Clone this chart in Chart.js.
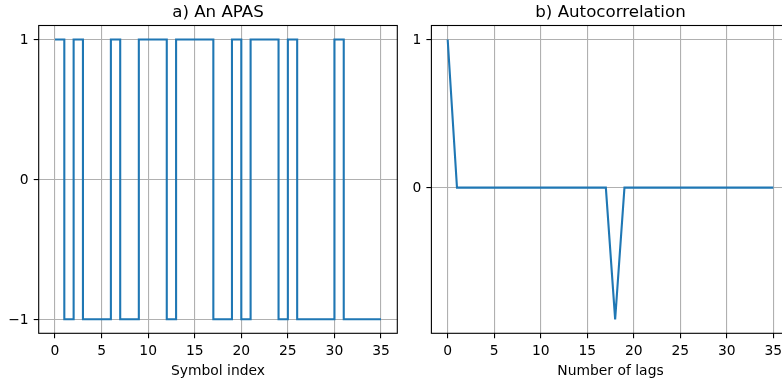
<!DOCTYPE html>
<html>
<head>
<meta charset="utf-8">
<script src="https://cdn.jsdelivr.net/npm/chart.js@4/dist/chart.umd.min.js"></script>
<style>
  html, body { margin: 0; padding: 0; background: #fff; overflow: hidden; }
  .panel { position: absolute; top: 0; width: 400px; height: 383px; }
  #panelA { left: 0; }
  #panelB { left: 400px; }
</style>
</head>
<body>
<div class="panel" id="panelA"><canvas id="chart-apas" width="400" height="383"></canvas></div>
<div class="panel" id="panelB"><canvas id="chart-acf" width="400" height="383"></canvas></div>
<script>
// symbol sequence (+1 / -1) and its periodic autocorrelation
var symbolIndex = [0, 1, 2, 3, 4, 5, 6, 7, 8, 9, 10, 11, 12, 13, 14, 15, 16, 17,
                   18, 19, 20, 21, 22, 23, 24, 25, 26, 27, 28, 29, 30, 31, 32, 33, 34, 35];
var apas = [1, 1, -1, 1, -1, -1, -1, 1, -1, -1, 1, 1, 1, -1, 1, 1, 1, 1,
            -1, -1, 1, -1, 1, 1, 1, -1, 1, -1, -1, -1, -1, 1, -1, -1, -1, -1];

var lags = [0, 1, 2, 3, 4, 5, 6, 7, 8, 9, 10, 11, 12, 13, 14, 15, 16, 17,
            18, 19, 20, 21, 22, 23, 24, 25, 26, 27, 28, 29, 30, 31, 32, 33, 34, 35];
var autocorr = [1, 0, 0, 0, 0, 0, 0, 0, 0, 0, 0, 0, 0, 0, 0, 0, 0, 0,
                -0.889, 0, 0, 0, 0, 0, 0, 0, 0, 0, 0, 0, 0, 0, 0, 0, 0, 0];

var xTickValues = [0, 5, 10, 15, 20, 25, 30, 35];
var apasTickValues = [-1, 0, 1];
var acfTickValues = [0, 1];

var FONT = '"DejaVu Sans", sans-serif';
Chart.defaults.color = '#000';
Chart.defaults.font.family = FONT;

function points(xs, ys) {
  return xs.map(function (x, i) { return { x: x, y: ys[i] }; });
}

function minusSign(v) {
  return String(v).replace('-', '\u2212');
}

// frame around the plot area plus the title above it
var framePlugin = {
  id: 'frame',
  afterDraw: function (chart, args, opts) {
    var a = chart.chartArea;
    var ctx = chart.ctx;
    ctx.save();
    ctx.strokeStyle = '#000';
    ctx.lineWidth = 1.1;
    ctx.strokeRect(a.left, a.top, a.right - a.left, a.bottom - a.top);
    ctx.fillStyle = '#000';
    ctx.font = '16.67px ' + FONT;
    ctx.textAlign = 'center';
    ctx.textBaseline = 'alphabetic';
    ctx.fillText(opts.text, (a.left + a.right) / 2, a.top - 8.3);
    ctx.restore();
  }
};

function makeChart(canvasId, cfg) {
  var ctx = document.getElementById(canvasId).getContext('2d');
  return new Chart(ctx, {
    type: 'line',
    data: {
      datasets: [{
        data: points(cfg.xs, cfg.ys),
        borderColor: '#1f77b4',
        borderWidth: 2.1,
        pointRadius: 0,
        fill: false,
        tension: 0,
        stepped: cfg.stepped
      }]
    },
    plugins: [framePlugin],
    options: {
      responsive: false,
      animation: false,
      layout: { padding: { left: 0, right: cfg.padRight, top: 25.5, bottom: 0 } },
      plugins: {
        legend: { display: false },
        tooltip: { enabled: false },
        frame: { text: cfg.title }
      },
      scales: {
        x: {
          type: 'linear',
          min: -1.75,
          max: 36.75,
          afterBuildTicks: function (s) { s.ticks = xTickValues.map(function (v) { return { value: v }; }); },
          afterFit: function (s) { s.height = 49.7; },
          border: { display: false },
          grid: { color: '#b0b0b0', lineWidth: 1.1, tickColor: '#000', tickLength: 5, tickWidth: 1.1 },
          ticks: { font: { size: 13.89 }, padding: 5, maxRotation: 0, callback: minusSign },
          title: { display: true, text: cfg.xTitle, font: { size: 13.89 }, padding: { top: 0, bottom: 3.3 } }
        },
        y: {
          type: 'linear',
          min: cfg.yMin,
          max: cfg.yMax,
          afterBuildTicks: function (s) { s.ticks = cfg.yTicks.map(function (v) { return { value: v }; }); },
          afterFit: function (s) { s.width = cfg.yWidth; },
          border: { display: false },
          grid: { color: '#b0b0b0', lineWidth: 1.1, tickColor: '#000', tickLength: 5, tickWidth: 1.1 },
          ticks: { font: { size: 13.89 }, padding: 5, labelOffset: 1, callback: minusSign }
        }
      }
    }
  });
}

makeChart('chart-apas', {
  xs: symbolIndex, ys: apas, stepped: 'after',
  title: 'a) An APAS', xTitle: 'Symbol index',
  yMin: -1.1, yMax: 1.1, yTicks: apasTickValues,
  yWidth: 38.7, padRight: 2.7
});

makeChart('chart-acf', {
  xs: lags, ys: autocorr, stepped: false,
  title: 'b) Autocorrelation', xTitle: 'Number of lags',
  yMin: -0.9833, yMax: 1.0944, yTicks: acfTickValues,
  yWidth: 31.4, padRight: 10.4
});
</script>
</body>
</html>
